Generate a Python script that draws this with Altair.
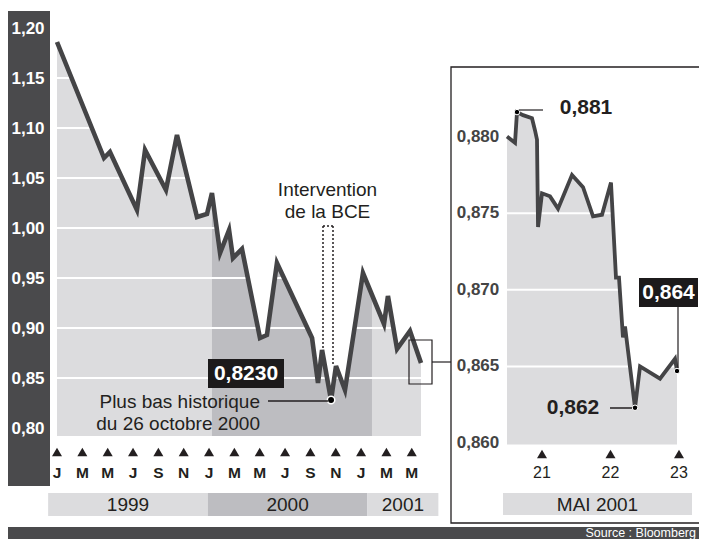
import altair as alt
import pandas as pd

# ---------------- data ----------------
# main panel: month index (0 = Jan 1999) and EUR/USD rate
months = [0, 3.71, 4.18, 6.31, 6.95, 8.60, 9.47, 11.05, 11.84, 12.23, 12.87, 13.58, 13.89,
          14.60, 16.02, 16.57, 17.36, 20.13, 20.60, 20.92, 21.63, 22.02, 22.73, 24.15,
          25.81, 26.12, 26.84, 27.86, 28.73]
rates = [1.186, 1.070, 1.076, 1.018, 1.078, 1.038, 1.093, 1.011, 1.014, 1.035, 0.975, 0.998,
         0.970, 0.979, 0.890, 0.893, 0.965, 0.890, 0.845, 0.878, 0.828, 0.862, 0.838, 0.955,
         0.904, 0.932, 0.879, 0.897, 0.865]

# inset: day of May 2001 and rate
days = [20.489, 20.606, 20.635, 20.723, 20.854, 20.898, 20.927, 20.942, 21.000, 21.117,
        21.234, 21.438, 21.599, 21.745, 21.876, 22.007, 22.080, 22.124, 22.182, 22.212,
        22.358, 22.431, 22.723, 22.942, 22.971]
may_rates = [0.8800, 0.8796, 0.8816, 0.8814, 0.8812, 0.8804, 0.8798, 0.8741, 0.8763, 0.8761,
             0.8753, 0.8775, 0.8767, 0.8748, 0.8749, 0.8770, 0.8708, 0.8708, 0.8669, 0.8676,
             0.8623, 0.8650, 0.8642, 0.8655, 0.8647]

main_ticks = [0.80, 0.85, 0.90, 0.95, 1.00, 1.05, 1.10, 1.15, 1.20]
main_tick_labels = ["0,80", "0,85", "0,90", "0,95", "1,00", "1,05", "1,10", "1,15", "1,20"]
main_grid = [0.85, 0.90, 0.95, 1.00, 1.05, 1.10, 1.15]

month_ticks = [0, 2, 4, 6, 8, 10, 12, 14, 16, 18, 20, 22, 24, 26, 28]
month_letters = ["J", "M", "M", "J", "S", "N", "J", "M", "M", "J", "S", "N", "J", "M", "M"]

years = ["1999", "2000", "2001"]
year_start = [-0.7, 11.9, 24.5]
year_end = [11.9, 24.5, 30.1]
year_kind = ["light", "dark", "light"]

shade_start = [0, 12.23, 24.86]
shade_end = [12.23, 24.86, 28.73]
shade_kind = ["light", "dark", "light"]

inset_ticks = [0.860, 0.865, 0.870, 0.875, 0.880]
inset_tick_labels = ["0,860", "0,865", "0,870", "0,875", "0,880"]
inset_grid = [0.865, 0.870, 0.875]
day_ticks = [21, 22, 23]
day_labels = ["21", "22", "23"]

# ---------------- styling ----------------
FONT = "Liberation Sans"
INK = "#231f20"
LINE = "#444446"
LIGHT = "#dcdcde"
DARK = "#bdbdc1"
STRIP = "#4a4a4c"

LX = alt.Scale(domain=[-1, 31], range=[36.33, 441.77], zero=False, nice=False)
LY = alt.Scale(domain=[0.78, 1.21], range=[440, 10], zero=False, nice=False)
RX = alt.Scale(domain=[20, 24], range=[465.5, 739.5], zero=False, nice=False)
RY = alt.Scale(domain=[0.855, 0.885], range=[511.6, 52.0], zero=False, nice=False)
KIND = alt.Scale(domain=["light", "dark"], range=[LIGHT, DARK])

df_main = pd.DataFrame({"m": months, "v": rates})
df_min = df_main[df_main["v"] == df_main["v"].min()]
df_last = df_main.tail(1)
df_shade = pd.DataFrame({"s": shade_start, "e": shade_end, "kind": shade_kind})
df_years = pd.DataFrame({"year": years, "s": year_start, "e": year_end, "kind": year_kind})
df_years["mid"] = (df_years["s"] + df_years["e"]) / 2
df_mt = pd.DataFrame({"m": month_ticks, "t": month_letters})
df_yt = pd.DataFrame({"v": main_ticks, "t": main_tick_labels})
df_grid = pd.DataFrame({"v": main_grid})

df_may = pd.DataFrame({"d": days, "v": may_rates})
df_may_marks = pd.concat([
    df_may[df_may["v"] == df_may["v"].max()],
    df_may[df_may["v"] == df_may["v"].min()],
    df_may.tail(1),
])
df_it = pd.DataFrame({"v": inset_ticks, "t": inset_tick_labels})
df_igrid = pd.DataFrame({"v": inset_grid})
df_dt = pd.DataFrame({"d": day_ticks, "t": day_labels})

dummy = pd.DataFrame({"a": [0]})


def X(f):
    return alt.X(f, scale=LX, axis=None)


def Y(f):
    return alt.Y(f, scale=LY, axis=None)


# ---------------- main panel ----------------
bands = alt.Chart(df_shade).mark_rect().encode(
    x=X("s:Q"), x2="e:Q",
    y=alt.YDatum(0.792, scale=LY, axis=None), y2=alt.Y2Datum(1.195),
    color=alt.Color("kind:N", scale=KIND, legend=None),
)
mask = alt.Chart(df_main).mark_area(fill="white", fillOpacity=1, opacity=1).encode(
    x=X("m:Q"), y=Y("v:Q"), y2=alt.Y2Datum(1.25)
)
mask_edge = alt.Chart(df_last).mark_rule(color="white", strokeWidth=2.5).encode(
    x=X("m:Q"), y=Y("v:Q"), y2=alt.Y2Datum(1.25)
)
grid = alt.Chart(df_grid).mark_rule(color="white", strokeWidth=2).encode(
    y=Y("v:Q"), x=alt.XDatum(0, scale=LX, axis=None), x2=alt.X2Datum(28.73)
)
line = alt.Chart(df_main).mark_line(
    color=LINE, strokeWidth=4.6, strokeJoin="miter", strokeCap="butt"
).encode(x=X("m:Q"), y=Y("v:Q"))
min_dot = alt.Chart(df_min).mark_point(
    filled=True, color="black", stroke="white", strokeWidth=1.5, size=55, opacity=1
).encode(x=X("m:Q"), y=Y("v:Q"))
ylabels = alt.Chart(df_yt).mark_text(
    font=FONT, fontSize=17, fontWeight="bold", color="white", align="center",
    baseline="middle", dy=1
).encode(y=Y("v:Q"), x=alt.value(20), text="t:N")
tri = alt.Chart(df_mt).mark_point(
    shape="triangle-up", filled=True, size=100, color=INK, opacity=1
).encode(x=X("m:Q"), y=alt.value(444))
mlet = alt.Chart(df_mt).mark_text(
    font=FONT, fontSize=15.5, fontWeight="bold", color=INK, baseline="middle"
).encode(x=X("m:Q"), y=alt.value(465), text="t:N")
ybands = alt.Chart(df_years).mark_rect().encode(
    x=X("s:Q"), x2="e:Q", y=alt.value(485), y2=alt.value(508),
    color=alt.Color("kind:N", scale=KIND, legend=None),
)
ytext = alt.Chart(df_years).mark_text(
    font=FONT, fontSize=19, color=INK, baseline="middle"
).encode(x=X("mid:Q"), y=alt.value(497), text="year:N")

strip = alt.Chart(dummy).mark_rect(color=STRIP).encode(
    x=alt.value(0), x2=alt.value(42), y=alt.value(3), y2=alt.value(478)
)

main = alt.layer(strip, bands, mask, mask_edge, grid, line, ylabels, tri, mlet,
                 ybands, ytext, min_dot)


# ---------------- inset panel ----------------
def RXf(f):
    return alt.X(f, scale=RX, axis=None)


def RYf(f):
    return alt.Y(f, scale=RY, axis=None)


r_area = alt.Chart(df_may).mark_area(fill=LIGHT, fillOpacity=1, opacity=1).encode(
    x=RXf("d:Q"), y=RYf("v:Q"), y2=alt.Y2Datum(0.8599)
)
r_grid = alt.Chart(df_igrid).mark_rule(color="white", strokeWidth=2).encode(
    y=RYf("v:Q"), x=alt.XDatum(days[0], scale=RX, axis=None), x2=alt.X2Datum(days[-1])
)
r_line = alt.Chart(df_may).mark_line(
    color=LINE, strokeWidth=3.8, strokeJoin="miter", strokeCap="butt"
).encode(x=RXf("d:Q"), y=RYf("v:Q"))
r_dots = alt.Chart(df_may_marks).mark_point(
    filled=True, color="black", stroke="white", strokeWidth=1, size=30, opacity=1
).encode(x=RXf("d:Q"), y=RYf("v:Q"))
r_ylab = alt.Chart(df_it).mark_text(
    font=FONT, fontSize=17, fontWeight="bold", color="#444", align="center", baseline="middle"
).encode(y=RYf("v:Q"), x=alt.value(470), text="t:N")
r_tri = alt.Chart(df_dt).mark_point(
    shape="triangle-up", filled=True, size=100, color=INK, opacity=1
).encode(x=RXf("d:Q"), y=alt.value(446))
r_dlab = alt.Chart(df_dt).mark_text(
    font=FONT, fontSize=16, color=INK, baseline="middle"
).encode(x=RXf("d:Q"), y=alt.value(465), text="t:N")

inset = alt.layer(r_area, r_grid, r_line, r_dots, r_ylab, r_tri, r_dlab)


# ---------------- decorations / annotations ----------------
def rect(x, x2, y, y2, **kw):
    return alt.Chart(dummy).mark_rect(**kw).encode(
        x=alt.value(x), x2=alt.value(x2), y=alt.value(y), y2=alt.value(y2)
    )


def rule(x, x2, y, y2, **kw):
    return alt.Chart(dummy).mark_rule(**kw).encode(
        x=alt.value(x), x2=alt.value(x2), y=alt.value(y), y2=alt.value(y2)
    )


def text(s, x, y, **kw):
    base = dict(font=FONT, color=INK, baseline="middle", align="center")
    base.update(kw)
    return alt.Chart(dummy).mark_text(text=s, **base).encode(x=alt.value(x), y=alt.value(y))


deco = [
    # inset frame
    rect(443, 700, 59, 515, fill=None, stroke=INK, strokeWidth=1.3, filled=False),
    rect(495, 684, 485, 507, color=LIGHT),
    text("MAI 2001", 589.5, 497, fontSize=19),
    # zoom box + connector
    rect(401, 424, 332, 376, fill=None, stroke=INK, strokeWidth=1.2, filled=False),
    rule(424, 443, 354, 354, color=INK, strokeWidth=1.2),
    # intervention bracket
    rule(315, 315, 218, 340, color=INK, strokeWidth=1.5, strokeDash=[2, 2]),
    rule(325, 325, 218, 356, color=INK, strokeWidth=1.5, strokeDash=[2, 2]),
    rule(315, 325, 218, 218, color=INK, strokeWidth=1.5, strokeDash=[2, 2]),
    text("Intervention", 319.5, 182, fontSize=19),
    text("de la BCE", 319.5, 204, fontSize=19),
    # record low
    rect(200, 276, 351, 380, color="#1c1a1b"),
    text("0,8230", 238, 366, fontSize=21, fontWeight="bold", color="white"),
    text("Plus bas historique", 252, 394, fontSize=19, align="right"),
    text("du 26 octobre 2000", 252, 416, fontSize=19, align="right"),
    rule(260, 320, 393, 393, color=INK, strokeWidth=1.5),
    # inset annotations
    rule(511, 535, 102, 102, color=INK, strokeWidth=1.2),
    text("0,881", 578, 100, fontSize=21, fontWeight="bold"),
    rect(631, 690, 270, 299, color="#1c1a1b"),
    text("0,864", 660.5, 285, fontSize=21, fontWeight="bold", color="white"),
    rule(670, 670, 299, 360, color=INK, strokeWidth=1.2),
    text("0,862", 565, 400, fontSize=21, fontWeight="bold"),
    rule(602, 624, 400, 400, color=INK, strokeWidth=1.5),
    # source bar
    rect(0, 700, 519, 540, color=STRIP),
    text("Source : Bloomberg", 688, 529, fontSize=12.5, color="white", align="right",
         baseline="alphabetic"),
]

chart = alt.layer(main, inset, *deco).resolve_scale(
    x="independent", y="independent"
).properties(
    width=691, height=531, padding=0, autosize=alt.AutoSizeParams(type="none")
).configure_view(stroke=None)

chart.save("out.html", embed_options={"renderer": "svg", "actions": False})
